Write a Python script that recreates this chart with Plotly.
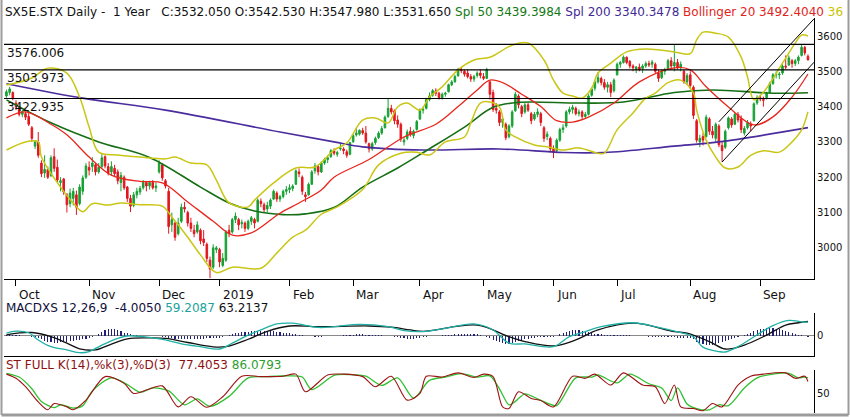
import pandas as pd
import plotly.graph_objects as go

# ---------------- trading calendar (categories) ----------------
start_date = "2018-09-26"
end_date = "2019-09-23"
holidays = ["2018-12-25", "2018-12-26", "2019-01-01", "2019-04-19", "2019-04-22", "2019-05-01"]
td = pd.bdate_range(start_date, end_date)
td = td[~td.isin(pd.to_datetime(holidays))]

month_labels = ["Oct", "Nov", "Dec", "2019", "Feb", "Mar", "Apr", "May", "Jun", "Jul", "Aug", "Sep"]
month_starts = ["2018-10-01", "2018-11-01", "2018-12-03", "2019-01-02", "2019-02-01", "2019-03-01",
                "2019-04-01", "2019-05-02", "2019-06-03", "2019-07-01", "2019-08-01", "2019-09-02"]

# ---------------- daily OHLC (one line per month) ----------------
opens = [
    3430, 3440, 3440,
    3410, 3398, 3378, 3380, 3372, 3340, 3288, 3300, 3240, 3212, 3222, 3205, 3258, 3228, 3185, 3195, 3150, 3125, 3140, 3150, 3125, 3160, 3200,
    3228, 3230, 3235, 3215, 3230, 3258, 3230, 3215, 3225, 3215, 3185, 3200, 3172, 3140, 3120, 3150, 3158, 3170, 3185, 3175, 3185, 3170,
    3215, 3235, 3190, 3160, 3065, 3070, 3040, 3075, 3115, 3100, 3070, 3050, 3045, 3050, 3025, 3010, 2965, 2945, 2995,
    2995, 2950, 2965, 3050, 3045, 3080, 3080, 3068, 3070, 3055, 3075, 3080, 3075, 3132, 3122, 3110, 3118, 3138, 3155, 3138, 3145, 3160,
    3165, 3168, 3180, 3215, 3200, 3150, 3150, 3180, 3218, 3230, 3215, 3240, 3250, 3258, 3275, 3265, 3280, 3280, 3272, 3265,
    3300, 3320, 3322, 3332, 3325, 3295, 3280, 3298, 3312, 3325, 3340, 3372, 3395, 3388, 3362, 3350, 3300, 3310, 3330, 3318, 3335,
    3365, 3390, 3395, 3420, 3432, 3445, 3438, 3425, 3435, 3442, 3462, 3470, 3487, 3505, 3500, 3495, 3485, 3478, 3488, 3495,
    3485, 3480, 3470, 3440, 3395, 3385, 3355, 3350, 3315, 3345, 3388, 3430, 3400, 3385, 3405, 3380, 3365, 3378, 3380, 3340, 3315, 3310,
    3280, 3275, 3305, 3335, 3345, 3385, 3392, 3395, 3380, 3385, 3372, 3378, 3432, 3452, 3470, 3480, 3468, 3455, 3462, 3445,
    3490, 3520, 3525, 3540, 3528, 3515, 3505, 3512, 3508, 3515, 3522, 3520, 3520, 3495, 3482, 3500, 3508, 3530, 3515, 3525, 3512, 3500, 3470,
    3490, 3455, 3360, 3300, 3315, 3315, 3365, 3330, 3310, 3345, 3290, 3285, 3340, 3365, 3350, 3378, 3365, 3325, 3340, 3350, 3360, 3410,
    3425, 3420, 3425, 3440, 3465, 3490, 3490, 3495, 3515, 3518, 3530, 3522, 3530, 3545, 3568, 3542.53,
]
highs = [
    3448, 3456, 3443,
    3418, 3402, 3392, 3386, 3382, 3345, 3305, 3328, 3248, 3262, 3230, 3262, 3282, 3250, 3200, 3198, 3155, 3168, 3170, 3162, 3180, 3205, 3240,
    3245, 3257, 3240, 3240, 3266, 3262, 3240, 3245, 3235, 3222, 3215, 3205, 3175, 3150, 3158, 3170, 3175, 3192, 3188, 3190, 3192, 3185,
    3248, 3240, 3195, 3170, 3100, 3075, 3085, 3125, 3130, 3105, 3085, 3065, 3075, 3055, 3050, 3015, 2975, 3010, 3005,
    3000, 2985, 3050, 3065, 3085, 3100, 3085, 3080, 3075, 3080, 3090, 3085, 3140, 3140, 3128, 3130, 3140, 3165, 3160, 3150, 3165, 3175,
    3180, 3180, 3222, 3225, 3205, 3158, 3185, 3220, 3240, 3235, 3245, 3255, 3262, 3280, 3282, 3275, 3295, 3285, 3278, 3300,
    3322, 3340, 3335, 3340, 3345, 3298, 3300, 3315, 3330, 3345, 3375, 3422, 3405, 3392, 3375, 3355, 3315, 3335, 3342, 3335, 3362,
    3395, 3400, 3425, 3440, 3450, 3452, 3442, 3440, 3442, 3465, 3475, 3490, 3510, 3512, 3505, 3505, 3492, 3490, 3500, 3505,
    3495, 3510, 3475, 3448, 3410, 3390, 3375, 3355, 3350, 3390, 3442, 3435, 3405, 3410, 3410, 3385, 3385, 3395, 3385, 3345, 3330, 3315,
    3290, 3310, 3340, 3350, 3390, 3400, 3405, 3400, 3392, 3390, 3385, 3435, 3455, 3475, 3498, 3485, 3478, 3470, 3470, 3480,
    3525, 3530, 3545, 3542, 3532, 3520, 3515, 3522, 3520, 3528, 3530, 3532, 3525, 3505, 3505, 3510, 3535, 3540, 3576, 3535, 3528, 3505, 3495,
    3500, 3460, 3365, 3320, 3325, 3377, 3370, 3345, 3355, 3350, 3300, 3335, 3372, 3370, 3382, 3385, 3375, 3345, 3362, 3358, 3412, 3432,
    3432, 3428, 3442, 3470, 3495, 3500, 3498, 3520, 3545, 3545, 3535, 3535, 3545, 3575, 3572, 3547.98,
]
lows = [
    3425, 3432, 3418,
    3390, 3372, 3370, 3362, 3345, 3300, 3280, 3255, 3200, 3198, 3195, 3200, 3215, 3186, 3160, 3150, 3100, 3115, 3120, 3093, 3120, 3150, 3195,
    3205, 3215, 3205, 3210, 3225, 3225, 3205, 3205, 3200, 3180, 3160, 3164, 3130, 3101, 3115, 3140, 3150, 3165, 3160, 3165, 3165, 3158,
    3210, 3190, 3168, 3040, 3045, 3020, 3035, 3070, 3100, 3060, 3045, 3030, 3040, 3010, 3005, 2960, 2914, 2940, 2985,
    2945, 2945, 2960, 3030, 3040, 3070, 3050, 3055, 3045, 3050, 3065, 3055, 3072, 3115, 3100, 3100, 3110, 3135, 3130, 3130, 3140, 3150,
    3155, 3160, 3178, 3200, 3150, 3130, 3148, 3178, 3210, 3205, 3212, 3235, 3240, 3255, 3262, 3258, 3275, 3265, 3255, 3262,
    3298, 3315, 3318, 3320, 3295, 3270, 3275, 3292, 3308, 3320, 3338, 3368, 3378, 3350, 3340, 3300, 3290, 3305, 3315, 3310, 3332,
    3362, 3380, 3392, 3415, 3428, 3430, 3420, 3420, 3428, 3440, 3458, 3468, 3485, 3495, 3485, 3480, 3470, 3470, 3482, 3480,
    3475, 3478, 3420, 3385, 3380, 3345, 3340, 3305, 3310, 3340, 3385, 3395, 3370, 3380, 3385, 3350, 3360, 3370, 3345, 3300, 3305, 3270,
    3254, 3270, 3300, 3325, 3340, 3378, 3380, 3375, 3372, 3365, 3368, 3375, 3428, 3445, 3465, 3460, 3448, 3440, 3427, 3440,
    3488, 3510, 3522, 3520, 3508, 3500, 3495, 3500, 3495, 3510, 3512, 3510, 3495, 3470, 3478, 3490, 3505, 3505, 3500, 3505, 3500, 3465, 3462,
    3450, 3365, 3298, 3285, 3290, 3312, 3320, 3310, 3300, 3285, 3243, 3280, 3335, 3340, 3348, 3355, 3325, 3318, 3335, 3330, 3358, 3405,
    3415, 3400, 3420, 3438, 3462, 3480, 3478, 3490, 3505, 3515, 3510, 3515, 3520, 3542, 3545, 3531.65,
]
closes = [
    3442, 3450, 3424,
    3400, 3378, 3386, 3370, 3350, 3310, 3300, 3262, 3210, 3222, 3200, 3255, 3225, 3192, 3190, 3158, 3122, 3155, 3160, 3115, 3172, 3198, 3232,
    3220, 3240, 3215, 3228, 3255, 3232, 3212, 3230, 3210, 3190, 3205, 3170, 3140, 3118, 3150, 3160, 3168, 3185, 3175, 3185, 3170, 3175,
    3240, 3198, 3175, 3060, 3080, 3030, 3070, 3115, 3110, 3070, 3055, 3040, 3065, 3020, 3015, 2970, 2940, 3000, 3000,
    2960, 2970, 3045, 3040, 3080, 3090, 3065, 3072, 3055, 3075, 3085, 3070, 3135, 3125, 3108, 3120, 3135, 3160, 3138, 3145, 3160, 3165,
    3170, 3175, 3218, 3210, 3160, 3145, 3180, 3215, 3232, 3215, 3240, 3250, 3255, 3275, 3268, 3270, 3282, 3275, 3262, 3298,
    3318, 3325, 3333, 3325, 3300, 3280, 3295, 3310, 3325, 3338, 3370, 3395, 3385, 3360, 3350, 3308, 3305, 3328, 3320, 3330, 3358,
    3390, 3392, 3420, 3430, 3445, 3438, 3425, 3435, 3438, 3462, 3470, 3485, 3505, 3502, 3492, 3485, 3478, 3485, 3495, 3488,
    3480, 3505, 3435, 3392, 3390, 3355, 3365, 3312, 3345, 3385, 3435, 3405, 3380, 3405, 3390, 3360, 3378, 3385, 3355, 3310, 3322, 3280,
    3270, 3305, 3335, 3340, 3385, 3392, 3398, 3380, 3385, 3372, 3378, 3430, 3450, 3470, 3482, 3468, 3455, 3462, 3440, 3475,
    3520, 3525, 3540, 3525, 3515, 3510, 3512, 3505, 3515, 3522, 3518, 3526, 3500, 3480, 3500, 3505, 3530, 3515, 3525, 3510, 3520, 3470, 3488,
    3460, 3375, 3305, 3310, 3305, 3370, 3330, 3320, 3350, 3292, 3275, 3330, 3368, 3348, 3378, 3362, 3335, 3338, 3355, 3345, 3408, 3425,
    3422, 3418, 3438, 3465, 3490, 3492, 3492, 3515, 3512, 3538, 3522, 3530, 3540, 3568, 3552, 3532.05,
]

# ---------------- overlays ----------------
sma50_dates = ["2018-09-26", "2018-10-16", "2018-11-06", "2018-11-28", "2018-12-20", "2019-01-07", "2019-01-17",
               "2019-01-30", "2019-02-08", "2019-02-21", "2019-03-06", "2019-03-21", "2019-04-03", "2019-04-23",
               "2019-05-07", "2019-05-17", "2019-06-13", "2019-07-03", "2019-07-25", "2019-08-12", "2019-09-06", "2019-09-23"]
sma50_vals = [3419, 3354, 3300, 3256, 3172, 3127, 3104, 3094, 3096, 3114, 3172, 3226, 3275, 3342,
              3398, 3412, 3410, 3413, 3440, 3447, 3438, 3439.3984]

sma200_dates = ["2018-09-26", "2018-10-30", "2018-12-05", "2019-01-29", "2019-02-21", "2019-03-06", "2019-04-02",
                "2019-05-09", "2019-06-06", "2019-06-25", "2019-07-25", "2019-08-14", "2019-09-23"]
sma200_vals = [3465, 3424, 3390, 3328, 3300, 3286, 3277, 3280, 3270, 3270, 3288, 3300, 3340.3478]

bbmid_dates = ["2018-09-26", "2018-10-04", "2018-10-16", "2018-10-23", "2018-11-01", "2018-11-12", "2018-11-23",
               "2018-12-04", "2018-12-14", "2018-12-28", "2019-01-08", "2019-01-16", "2019-01-29", "2019-02-06",
               "2019-02-15", "2019-02-21", "2019-03-08", "2019-03-25", "2019-04-08", "2019-04-17", "2019-04-29",
               "2019-05-06", "2019-05-10", "2019-05-20", "2019-05-28", "2019-06-04", "2019-06-11", "2019-06-18",
               "2019-06-28", "2019-07-10", "2019-07-25", "2019-08-01", "2019-08-08", "2019-08-19", "2019-08-29",
               "2019-09-06", "2019-09-16", "2019-09-23"]
bbmid_vals = [3368, 3385, 3350, 3320, 3257, 3206, 3188, 3184, 3130, 3075, 3036, 3042, 3098, 3127,
              3164, 3200, 3250, 3314, 3350, 3400, 3447, 3475, 3468, 3435, 3400, 3360, 3356, 3370,
              3410, 3470, 3510, 3504, 3456, 3399, 3348, 3371, 3427, 3492.404]

bbup_dates = ["2018-09-26", "2018-10-08", "2018-10-15", "2018-10-23", "2018-10-29", "2018-11-01", "2018-11-06",
              "2018-11-14", "2018-11-23", "2018-12-05", "2018-12-10", "2018-12-17", "2018-12-24", "2018-12-31",
              "2019-01-07", "2019-01-15", "2019-01-17", "2019-01-25", "2019-02-05", "2019-02-13", "2019-02-21",
              "2019-02-27", "2019-03-06", "2019-03-12", "2019-03-18", "2019-03-21", "2019-03-26", "2019-04-01",
              "2019-04-04", "2019-04-10", "2019-04-17", "2019-04-26", "2019-05-06", "2019-05-15", "2019-05-22",
              "2019-05-29", "2019-06-03", "2019-06-06", "2019-06-11", "2019-06-14", "2019-06-19", "2019-06-21",
              "2019-06-27", "2019-07-04", "2019-07-12", "2019-07-25", "2019-08-01", "2019-08-05", "2019-08-07",
              "2019-08-13", "2019-08-19", "2019-08-23", "2019-08-27", "2019-08-29", "2019-09-03", "2019-09-11",
              "2019-09-17", "2019-09-19", "2019-09-23"]
bbup_vals = [3461, 3481, 3509, 3495, 3427, 3342, 3271, 3263, 3257, 3252, 3257, 3240, 3235, 3192,
             3127, 3116, 3135, 3184, 3226, 3229, 3277, 3297, 3362, 3368, 3354, 3399, 3410, 3390,
             3427, 3456, 3504, 3532, 3540, 3574, 3580, 3532, 3475, 3438, 3430, 3424, 3452, 3495,
             3523, 3555, 3563, 3555, 3550, 3589, 3611, 3608, 3597, 3540, 3484, 3419, 3441, 3523,
             3580, 3603, 3600]

bblow_dates = ["2018-09-26", "2018-10-04", "2018-10-10", "2018-10-11", "2018-10-19", "2018-10-25", "2018-10-30",
               "2018-11-02", "2018-11-09", "2018-11-15", "2018-11-23", "2018-12-04", "2018-12-07", "2018-12-14",
               "2018-12-20", "2018-12-31", "2019-01-08", "2019-01-21", "2019-01-28", "2019-02-04", "2019-02-08",
               "2019-02-15", "2019-02-22", "2019-03-06", "2019-03-13", "2019-03-22", "2019-03-29", "2019-04-04",
               "2019-04-11", "2019-04-23", "2019-04-25", "2019-04-30", "2019-05-06", "2019-05-09", "2019-05-13",
               "2019-05-16", "2019-05-24", "2019-05-30", "2019-06-06", "2019-06-13", "2019-06-21", "2019-06-25",
               "2019-07-01", "2019-07-08", "2019-07-12", "2019-07-17", "2019-07-23", "2019-07-29", "2019-08-02",
               "2019-08-05", "2019-08-08", "2019-08-13", "2019-08-16", "2019-08-22", "2019-08-28", "2019-09-03",
               "2019-09-10", "2019-09-16", "2019-09-19", "2019-09-23"]
bblow_vals = [3277, 3300, 3300, 3257, 3172, 3127, 3102, 3125, 3121, 3127, 3122, 3118, 3087, 3030,
              2980, 2930, 2945, 2942, 2985, 3030, 3050, 3095, 3116, 3165, 3235, 3268, 3271, 3263,
              3300, 3314, 3354, 3410, 3413, 3399, 3334, 3314, 3291, 3286, 3277, 3283, 3268, 3268,
              3334, 3382, 3424, 3438, 3468, 3475, 3438, 3390, 3305, 3257, 3226, 3229, 3262, 3275,
              3271, 3300, 3334, 3385]

levels = [3576.006, 3503.973, 3422.935]
channel_lower = [("2019-08-15", 3243), ("2019-09-23", 3507)]
channel_upper = [("2019-08-14", 3357), ("2019-09-23", 3630)]

# ---------------- MACD 12,26,9 ----------------
macd_dates = ["2018-09-26", "2018-10-01", "2018-10-05", "2018-10-10", "2018-10-16", "2018-10-23", "2018-10-29",
              "2018-11-01", "2018-11-07", "2018-11-14", "2018-11-19", "2018-11-23", "2018-11-30", "2018-12-05",
              "2018-12-12", "2018-12-20", "2019-01-02", "2019-01-08", "2019-01-15", "2019-01-21", "2019-01-28",
              "2019-02-04", "2019-02-14", "2019-02-21", "2019-03-05", "2019-03-18", "2019-03-25", "2019-04-02",
              "2019-04-11", "2019-04-26", "2019-05-07", "2019-05-14", "2019-05-21", "2019-06-03", "2019-06-10",
              "2019-06-17", "2019-06-24", "2019-07-08", "2019-07-18", "2019-07-29", "2019-08-02", "2019-08-07",
              "2019-08-14", "2019-08-16", "2019-08-22", "2019-08-30", "2019-09-06", "2019-09-13", "2019-09-19",
              "2019-09-23"]
macd_vals = [12, 21, 14, -17, -46, -60, -72, -67, -39, -10, 0, -2, -10, -17,
             -34, -46, -56, -31, 4, 26, 52, 55, 37, 40, 50, 40, 23, 19,
             33, 52, 26, -31, -34, -46, -3, 19, 40, 57, 37, 14, -3, -48,
             -67, -69, -46, 5, 45, 67, 61, 59.2087]

signal_dates = ["2018-09-26", "2018-10-08", "2018-10-16", "2018-10-23", "2018-10-29", "2018-11-05", "2018-11-12",
                "2018-11-19", "2018-11-28", "2018-12-05", "2018-12-14", "2018-12-28", "2019-01-04", "2019-01-15",
                "2019-01-23", "2019-02-01", "2019-02-14", "2019-03-08", "2019-03-19", "2019-03-27", "2019-04-02",
                "2019-04-29", "2019-05-14", "2019-05-21", "2019-06-03", "2019-06-12", "2019-06-21", "2019-07-08",
                "2019-07-25", "2019-07-31", "2019-08-09", "2019-08-16", "2019-08-26", "2019-09-04", "2019-09-12",
                "2019-09-18", "2019-09-23"]
signal_vals = [5, 15, -3, -31, -55, -60, -35, -12, -8, -10, -28, -47, -46, -14,
               20, 43, 40, 43, 38, 26, 20, 47, -3, -24, -43, -17, 26, 55,
               19, 12, -24, -56, -39, 4, 47, 57, 63.2137]

macd_hist = [
    4, 5, 6, 5, 4, 2, 0, -2, -4,
    -6, -10, -15, -20, -25, -28, -30, -30, -28, -26, -24, -22, -20, -18, -16, -14, -11,
    -8, -4, 2, 10, 18, 24, 28, 30, 28, 25, 20, 15, 11, 7, 4,
    3, 2, 1, 0, -1, -1, -2, -2, -4, -6, -8, -10, -12, -13, -14,
    -14, -14, -13, -12, -12, -11, -11, -10, -10, -10, -9, -8, -4,
    0, 4, 8, 11, 14, 16, 18, 19, 20, 21, 21, 22, 22, 22, 22, 21, 19, 17, 15, 13, 11, 9,
    7, 5, 3, 1, -1, -2, -3, -3, -3, -2, -1, 0, 0, 1, 2, 3, 4, 5, 6, 7, 7, 7, 6, 6, 5, 4, 3, 3, 2, 1,
    -2, -4, -6, -8, -10, -12, -12, -11, -9, -7, -5, -3, -1, 0, 1,
    2, 3, 4, 5, 6, 7, 8, 9, 10, 10, 10, 9, 8, 6,
    -1, -5, -10, -16, -22, -27, -31, -33, -33, -30, -26, -22, -18, -14, -11, -9, -7, -6, -5, -4, -4,
    -4, -3, 2, 8, 14, 19, 22, 24, 25, 24, 22, 19, 16, 13, 10,
    8, 7, 6, 6, 5, 5, 4, 4, 4, 3, 3, 2, 1, 0,
    -1, -2, -3, -4, -5, -5, -6, -6, -6, -6, -6, -7, -7, -8, -9, -10,
    -15, -24, -31, -36, -39, -40, -38, -35, -31, -27, -22, -17, -12, -7, -3,
    1, 5, 10, 15, 20, 25, 29, 32, 34, 35, 34, 32, 29, 25,
    21, 17, 13, 9, 6, 3, 0, -4.005,
]

# ---------------- Stochastic full 14,3,3 ----------------
stk_dates = ["2018-09-26", "2018-10-01", "2018-10-04", "2018-10-10", "2018-10-15", "2018-10-17", "2018-10-23",
             "2018-10-25", "2018-10-31", "2018-11-08", "2018-11-16", "2018-11-21", "2018-11-27", "2018-12-04",
             "2018-12-11", "2018-12-17", "2018-12-24", "2019-01-03", "2019-01-11", "2019-01-21", "2019-01-30",
             "2019-02-05", "2019-02-08", "2019-02-19", "2019-02-26", "2019-03-06", "2019-03-12", "2019-03-19",
             "2019-03-26", "2019-04-01", "2019-04-03", "2019-04-10", "2019-04-17", "2019-04-26", "2019-05-02",
             "2019-05-07", "2019-05-10", "2019-05-14", "2019-05-17", "2019-05-23", "2019-05-28", "2019-06-03",
             "2019-06-11", "2019-06-17", "2019-06-20", "2019-06-27", "2019-07-03", "2019-07-11", "2019-07-17",
             "2019-07-22", "2019-07-25", "2019-07-29", "2019-08-02", "2019-08-07", "2019-08-12", "2019-08-15",
             "2019-08-22", "2019-08-28", "2019-09-03", "2019-09-12", "2019-09-17", "2019-09-20", "2019-09-23"]
stk_vals = [95, 85, 65, 29, 10, 25, 17, 10, 33, 89, 73, 49, 57, 67,
            17, 41, 16, 41, 90, 89, 90, 95, 53, 93, 95, 89, 65, 90,
            33, 49, 90, 88, 98, 87, 95, 89, 17, 13, 53, 37, 32, 17,
            90, 85, 95, 69, 98, 69, 65, 25, 69, 17, 13, 8, 25, 17,
            69, 90, 95, 98, 85, 90, 77.4053]

std_dates = ["2018-09-26", "2018-10-02", "2018-10-08", "2018-10-11", "2018-10-17", "2018-10-19", "2018-10-25",
             "2018-10-30", "2018-11-02", "2018-11-12", "2018-11-19", "2018-11-23", "2018-11-29", "2018-12-06",
             "2018-12-13", "2018-12-19", "2018-12-27", "2019-01-07", "2019-01-15", "2019-01-23", "2019-02-01",
             "2019-02-07", "2019-02-12", "2019-02-21", "2019-02-28", "2019-03-07", "2019-03-14", "2019-03-21",
             "2019-03-28", "2019-04-04", "2019-04-11", "2019-04-18", "2019-04-29", "2019-05-06", "2019-05-09",
             "2019-05-14", "2019-05-16", "2019-05-21", "2019-05-27", "2019-05-30", "2019-06-04", "2019-06-12",
             "2019-06-19", "2019-06-21", "2019-07-01", "2019-07-05", "2019-07-15", "2019-07-19", "2019-07-24",
             "2019-07-26", "2019-07-31", "2019-08-05", "2019-08-09", "2019-08-14", "2019-08-19", "2019-08-26",
             "2019-08-30", "2019-09-05", "2019-09-13", "2019-09-18", "2019-09-20", "2019-09-23"]
std_vals = [97, 88, 60, 30, 15, 22, 14, 20, 55, 86, 70, 52, 62, 55,
            22, 36, 18, 42, 86, 89, 91, 88, 58, 92, 94, 90, 68, 86,
            38, 80, 88, 96, 88, 91, 60, 22, 30, 48, 36, 26, 20, 86,
            88, 93, 74, 95, 72, 62, 32, 62, 24, 13, 10, 22, 20, 62,
            86, 94, 97, 86, 88, 86.0793]

# ---------------- helpers ----------------
W, H = 850, 417
FONT = "DejaVu Sans"


def pos(d):
    return int(td.searchsorted(pd.Timestamp(d)))


def px_x(p):
    return p / W


def px_y(p):
    return 1 - p / H


n = len(td)
xs = list(range(n))
x_range = [-0.77, n + 0.9]
dom_x = [px_x(4), px_x(814)]

fig = go.Figure()

fig.add_trace(go.Candlestick(
    x=xs, open=opens, high=highs, low=lows, close=closes,
    increasing=dict(line=dict(color="#17a134", width=1), fillcolor="#17a134"),
    decreasing=dict(line=dict(color="#e3161e", width=1), fillcolor="#e3161e"),
    whiskerwidth=0, hoverinfo="skip", showlegend=False, xaxis="x", yaxis="y"))


def add_line(dates, vals, color, width, xa="x", ya="y", smooth=1.0):
    fig.add_trace(go.Scatter(
        x=[pos(d) for d in dates], y=vals, mode="lines",
        line=dict(color=color, width=width, shape="spline", smoothing=smooth),
        hoverinfo="skip", showlegend=False, xaxis=xa, yaxis=ya))


add_line(sma200_dates, sma200_vals, "#4b2c9e", 1.6)
add_line(sma50_dates, sma50_vals, "#156f15", 1.6)
add_line(bbup_dates, bbup_vals, "#c9c616", 1.5)
add_line(bblow_dates, bblow_vals, "#c9c616", 1.5)
add_line(bbmid_dates, bbmid_vals, "#e8261c", 1.3)

for (d0, v0), (d1, v1) in [channel_lower, channel_upper]:
    x0, x1 = pos(d0), pos(d1)
    slope = (v1 - v0) / (x1 - x0)
    fig.add_trace(go.Scatter(
        x=[x0, x_range[1]], y=[v0, v1 + slope * (x_range[1] - x1)], mode="lines",
        line=dict(color="black", width=1), hoverinfo="skip", showlegend=False))

# MACD panel
fig.add_trace(go.Bar(x=xs, y=macd_hist, width=0.35, marker=dict(color="#1f1f78", line=dict(width=0)),
                     hoverinfo="skip", showlegend=False, xaxis="x2", yaxis="y2"))
add_line(signal_dates, signal_vals, "#111111", 1.3, "x2", "y2")
add_line(macd_dates, macd_vals, "#1fb0a6", 1.3, "x2", "y2")

# Stochastic panel
add_line(std_dates, std_vals, "#33c033", 1.3, "x3", "y3", 0.8)
add_line(stk_dates, stk_vals, "#9b1414", 1.1, "x3", "y3", 0.8)

# ---------------- shapes ----------------
shapes = []
for lv in levels:
    shapes.append(dict(type="line", xref="x domain", yref="y", x0=0, x1=1, y0=lv, y1=lv,
                       line=dict(color="black", width=1.2)))
shapes.append(dict(type="line", xref="paper", yref="paper", x0=px_x(4), x1=px_x(814),
                   y0=px_y(356.5), y1=px_y(356.5), line=dict(color="black", width=1)))
# window frame
shapes.append(dict(type="line", xref="paper", yref="paper", x0=px_x(1.5), x1=px_x(1.5),
                   y0=px_y(0), y1=px_y(415), line=dict(color="#9c9c9c", width=2)))
shapes.append(dict(type="line", xref="paper", yref="paper", x0=px_x(848.5), x1=px_x(848.5),
                   y0=px_y(0), y1=px_y(415), line=dict(color="#9c9c9c", width=2)))
shapes.append(dict(type="line", xref="paper", yref="paper", x0=px_x(1.5), x1=px_x(848.5),
                   y0=px_y(415), y1=px_y(415), line=dict(color="#9c9c9c", width=3)))

# ---------------- annotations ----------------
ann = []
title = ("SX5E.STX Daily -\u00a0 1 Year\u00a0\u00a0 C:%.3f O:%.3f H:%.3f L:%.3f "
         "<span style='color:#147a14'>Spl 50 %.4f</span> "
         "<span style='color:#3f2a96'>Spl 200 %.4f</span> "
         "<span style='color:#e2231a'>Bollinger 20 %.4f</span> "
         "<span style='color:#c8c400'>36</span>") % (
    closes[-1], opens[-1], highs[-1], lows[-1], sma50_vals[-1], sma200_vals[-1], bbmid_vals[-1])
ann.append(dict(text=title, xref="paper", yref="paper", x=px_x(3), y=px_y(12),
                xanchor="left", yanchor="middle", showarrow=False,
                font=dict(family=FONT, size=12, color="#111111")))

for lv, yp in zip(levels, [53, 78, 107]):
    ann.append(dict(text="%.3f" % lv, xref="paper", yref="paper", x=px_x(5), y=px_y(yp),
                    xanchor="left", yanchor="middle", showarrow=False,
                    font=dict(family=FONT, size=12, color="#111111")))

for lab, d in zip(month_labels, month_starts):
    ann.append(dict(text=lab, xref="x", yref="paper", x=pos(d), y=px_y(294.5), xshift=1,
                    xanchor="left", yanchor="middle", showarrow=False,
                    font=dict(family=FONT, size=12, color="#111111")))

macd_title = ("MACDXS 12,26,9 \u00a0%.4f <span style='color:#1aa39a'>%.4f</span> "
              "<span style='color:#111111'>%.4f</span>") % (macd_hist[-1], macd_vals[-1], signal_vals[-1])
ann.append(dict(text=macd_title, xref="paper", yref="paper", x=px_x(4), y=px_y(308),
                xanchor="left", yanchor="middle", showarrow=False,
                font=dict(family=FONT, size=12, color="#10103c")))

st_title = ("ST FULL K(14),%%k(3),%%D(3) \u00a0%.4f <span style='color:#2e9e2e'>%.4f</span>") % (
    stk_vals[-1], std_vals[-1])
ann.append(dict(text=st_title, xref="paper", yref="paper", x=px_x(4), y=px_y(365),
                xanchor="left", yanchor="middle", showarrow=False,
                font=dict(family=FONT, size=12, color="#8e1111")))

axis_common = dict(showgrid=False, zeroline=False, fixedrange=True)
tickfont = dict(family=FONT, size=10, color="#111111")

fig.update_layout(
    width=W, height=H, margin=dict(l=0, r=0, t=0, b=0),
    paper_bgcolor="white", plot_bgcolor="white", showlegend=False, hovermode=False,
    xaxis=dict(domain=dom_x, range=x_range, anchor="y", showline=True, linecolor="black", linewidth=1,
               ticks="outside", ticklen=6, tickcolor="black", tickwidth=1,
               tickvals=[pos(d) for d in month_starts], showticklabels=False,
               rangeslider=dict(visible=False), **axis_common),
    yaxis=dict(domain=[px_y(279), px_y(18)], range=[2911.6, 3651], anchor="x", side="right",
               showline=True, linecolor="black", linewidth=1, ticks="",
               tickvals=[3000, 3100, 3200, 3300, 3400, 3500, 3600], tickfont=tickfont, **axis_common),
    xaxis2=dict(domain=dom_x, range=x_range, anchor="y2", visible=False, **axis_common),
    yaxis2=dict(domain=[px_y(357), px_y(313)], range=[-90.5, 99], anchor="x2", side="right",
                showline=True, linecolor="black", linewidth=1, ticks="", tickvals=[0], ticktext=["0"],
                tickfont=tickfont, showgrid=False, fixedrange=True,
                zeroline=True, zerolinecolor="#8a8a8a", zerolinewidth=1),
    xaxis3=dict(domain=dom_x, range=x_range, anchor="y3", visible=False, **axis_common),
    yaxis3=dict(domain=[px_y(413), px_y(370)], range=[2.4, 104.8], anchor="x3", side="right",
                showline=True, linecolor="black", linewidth=1, ticks="", tickvals=[50],
                tickfont=tickfont, **axis_common),
    shapes=shapes, annotations=ann, bargap=0,
)

fig.write_html("out.html", config={"displayModeBar": False, "staticPlot": True},
               post_script="document.body.style.margin='0';document.body.style.overflow='hidden';")
